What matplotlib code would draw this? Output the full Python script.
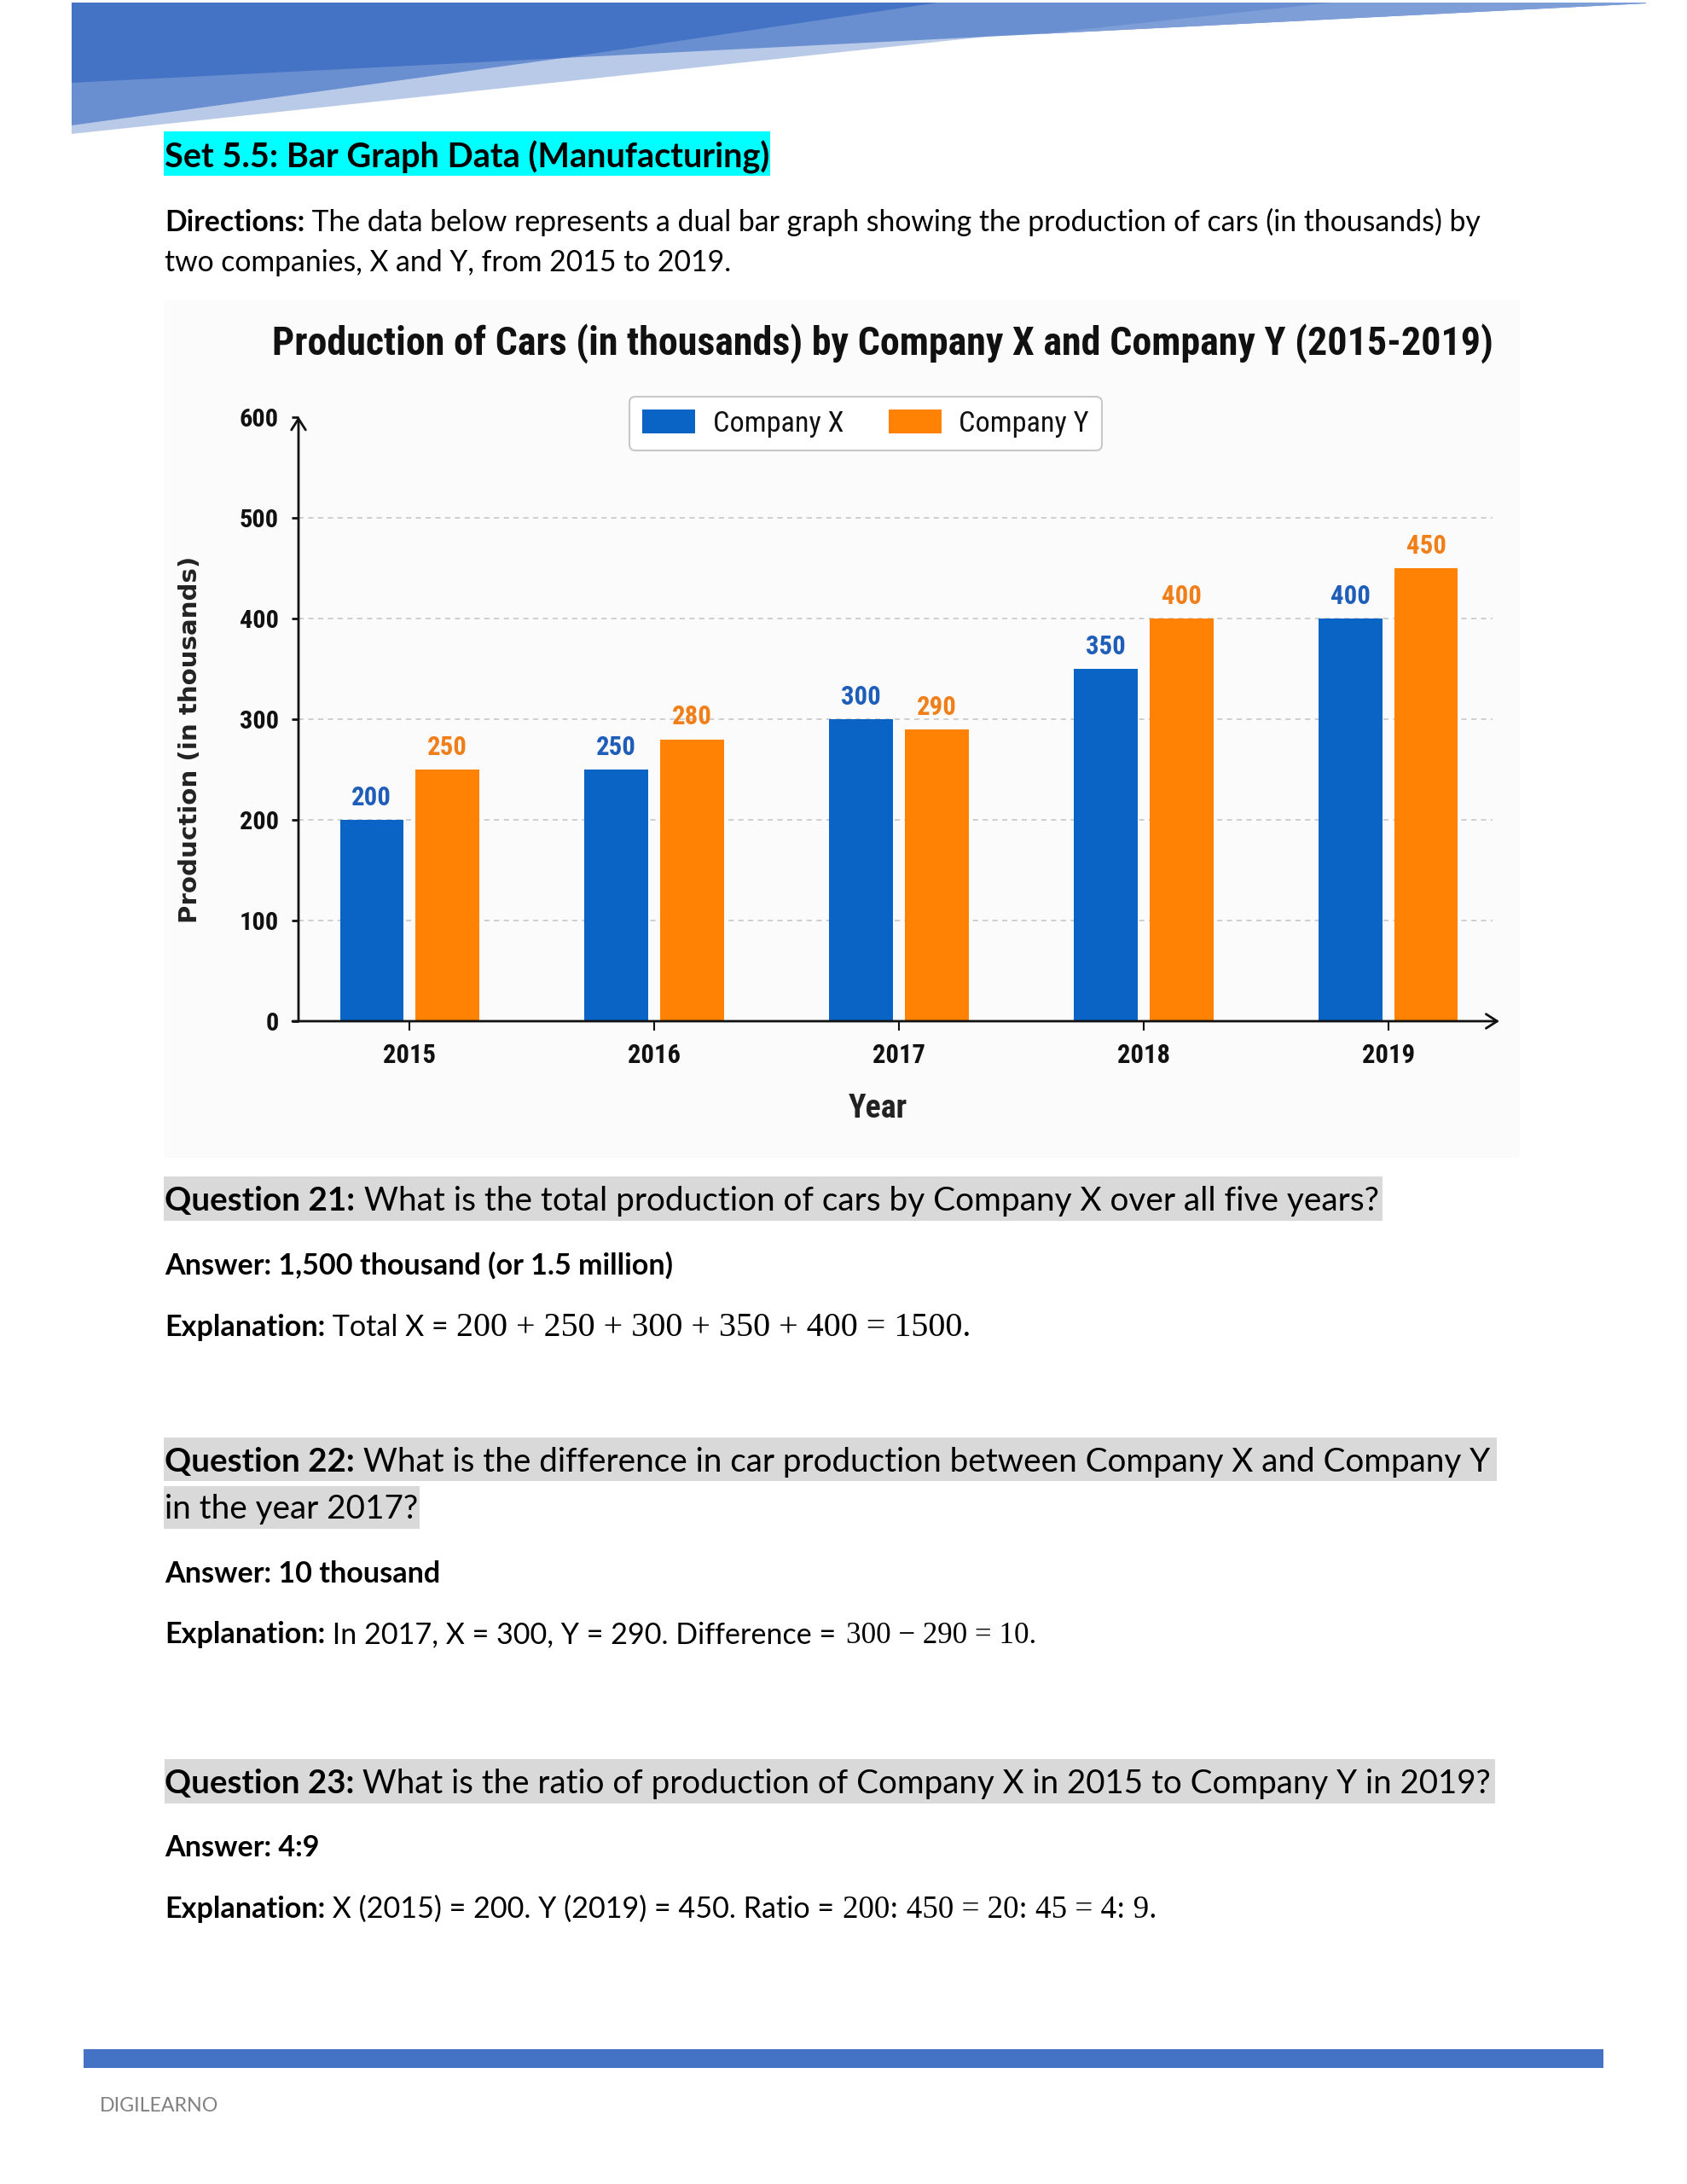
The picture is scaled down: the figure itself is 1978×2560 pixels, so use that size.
import matplotlib
matplotlib.use('Agg')
import matplotlib.pyplot as plt
from matplotlib import font_manager as fm
from matplotlib.patches import Rectangle, Polygon
import numpy as np

# ---------------- data ----------------
years = ['2015', '2016', '2017', '2018', '2019']
company_x = [200, 250, 300, 350, 400]
company_y = [250, 280, 290, 400, 450]
y_ticks = [0, 100, 200, 300, 400, 500, 600]
series_names = ['Company X', 'Company Y']

# ---------------- figure ----------------
W, H = 1978, 2560
fig = plt.figure(figsize=(W / 100, H / 100), dpi=100)
fig.patch.set_facecolor('white')
bg = fig.add_axes([0, 0, 1, 1])
bg.set_xlim(0, W)
bg.set_ylim(H, 0)
bg.axis('off')
renderer = fig.canvas.get_renderer()

names = {f.name for f in fm.fontManager.ttflist}


def pick(*cands):
    for c in cands:
        if c in names:
            return c
    return 'DejaVu Sans'


BODY = pick('Lato', 'Open Sans', 'Noto Sans')
COND = pick('Roboto Condensed', 'Liberation Sans Narrow', 'Roboto', 'Lato')
SERIF = pick('Liberation Serif', 'DejaVu Serif')
YLAB = 'DejaVu Sans'
CHART_BOOST = 1.0 if COND in ('Roboto Condensed', 'Liberation Sans Narrow') else 1.1


def width_px(s, **kw):
    t = bg.text(0, 0, s, fontsize=20, **kw)
    w = t.get_window_extent(renderer).width
    t.remove()
    return w


def adv_px(s, **kw):
    return width_px(s + '|', **kw) - width_px('|', **kw)


def fit_size(s, target, **kw):
    return 20 * target / width_px(s, **kw)


def draw_segments(x, y, segs, target=None, size=None, color='black', last_end=None):
    """Draw consecutive text runs on one baseline.
    target: total width to fit (uniform size). size: fixed size.
    last_end: if given, the last run is sized so that it ends at this x."""
    if size is None:
        total = sum(adv_px(t, **kw) for t, kw in segs[:-1]) + width_px(segs[-1][0], **segs[-1][1])
        size = 20 * target / total
    cx = x
    n = len(segs)
    for i, (t, kw) in enumerate(segs):
        sz = size
        if last_end is not None and i == n - 1:
            sz = fit_size(t, last_end - cx, **kw)
        bg.text(cx, y, t, fontsize=sz, va='baseline', ha='left', color=color, zorder=5, **kw)
        cx += adv_px(t, **kw) * sz / 20
    return size


B = dict(family=BODY, fontweight='bold')
N = dict(family=BODY)
S = dict(family=SERIF)

# ---------------- header banner ----------------
bg.add_patch(Polygon([(84, 3), (1156, 3), (1156, 43), (84, 157)], closed=True, color='#B9CAE8', lw=0, zorder=1))
bg.add_patch(Polygon([(84, 3), (1930, 3), (1930, 4), (660, 68), (84, 147)], closed=True, color='#6A8FD1', lw=0, zorder=2))
bg.add_patch(Polygon([(1218, 40), (1561, 3), (1930, 3), (1930, 4)], closed=True, color='#7E9ED8', lw=0, zorder=2))
bg.add_patch(Polygon([(84, 3), (1100, 3), (660, 68), (84, 97)], closed=True, color='#4472C4', lw=0, zorder=3))

# ---------------- heading & directions ----------------
bg.add_patch(Rectangle((192, 154), 711, 52, color='#00FFFF', lw=0, zorder=1))
draw_segments(193, 196, [('Set 5.5: Bar Graph Data (Manufacturing)', B)], 708)
dsize = draw_segments(193, 271, [('Directions:', B),
                                 (' The data below represents a dual bar graph showing the production of cars (in thousands) by', N)], 1545)
draw_segments(193, 318, [('two companies, X and Y, from 2015 to 2019.', N)], size=dsize)

# ---------------- chart ----------------
bg.add_patch(Rectangle((193, 352), 1589, 1005, color='#FBFBFB', lw=0, zorder=0))
chart_title = 'Production of Cars (in thousands) by Company X and Company Y (2015-2019)'
tsize = fit_size(chart_title, 1431, family=COND, fontweight='bold')
bg.text(319, 416, chart_title, fontsize=tsize, family=COND, fontweight='bold', va='baseline', ha='left', color='#111111')

ax_left, ax_right, ax_bottom, ax_top = 350, 1758, 1197, 489
ax = fig.add_axes([ax_left / W, 1 - ax_bottom / H, (ax_right - ax_left) / W, (ax_bottom - ax_top) / H])
ax.set_facecolor('none')
x = np.arange(len(years))
off, bw = 0.155, 0.258
ax.set_xlim(-0.453, 4.453)
ax.set_ylim(0, 600)

BLUE, ORANGE = '#0A64C6', '#FF8204'
BLUE_T, ORANGE_T = '#1E5DB8', '#F07F1A'
ax.bar(x - off, company_x, bw, color=BLUE, zorder=3, label=series_names[0])
ax.bar(x + off, company_y, bw, color=ORANGE, zorder=3, label=series_names[1])

vsize = fit_size('250', 45, family=COND, fontweight='bold') * CHART_BOOST * 1.04
for xi, v in zip(x, company_x):
    ax.annotate(str(v), (xi - off, v), xytext=(0, 8), textcoords='offset points', ha='center', va='bottom',
                fontsize=vsize, fontweight='bold', family=COND, color=BLUE_T, zorder=4)
for xi, v in zip(x, company_y):
    ax.annotate(str(v), (xi + off, v), xytext=(0, 8), textcoords='offset points', ha='center', va='bottom',
                fontsize=vsize, fontweight='bold', family=COND, color=ORANGE_T, zorder=4)

for v in y_ticks[1:-1]:
    ax.axhline(v, xmin=0, xmax=(1750 - ax_left) / (ax_right - ax_left), color='#C2C2C2', lw=1.1,
               dashes=(4, 3.5), zorder=1)

for sp in ax.spines.values():
    sp.set_visible(False)
ax.annotate('', xy=(0, 1.001), xytext=(0, 0), xycoords='axes fraction',
            arrowprops=dict(arrowstyle='->,head_length=0.47,head_width=0.3', lw=2, color='#111111',
                            shrinkA=0, shrinkB=0, mutation_scale=20), annotation_clip=False)
ax.annotate('', xy=(1, 0), xytext=(-0.005, 0), xycoords='axes fraction',
            arrowprops=dict(arrowstyle='->,head_length=0.47,head_width=0.3', lw=2, color='#111111',
                            shrinkA=0, shrinkB=0, mutation_scale=20), annotation_clip=False)

xsize = fit_size('2015', 62, family=COND, fontweight='bold') * CHART_BOOST
ysize = fit_size('600', 46, family=COND, fontweight='bold') * CHART_BOOST
ax.set_xticks(x, years)
ax.set_yticks(y_ticks, [str(v) for v in y_ticks])
ax.tick_params(axis='x', length=8, width=1.5, pad=10, labelsize=xsize, colors='#111111')
ax.tick_params(axis='y', length=5.5, width=2, pad=11, labelsize=ysize, colors='#111111')
for lab in ax.get_xticklabels() + ax.get_yticklabels():
    lab.set_fontfamily(COND)
    lab.set_fontweight('bold')

ylsize = fit_size('Production (in thousands)', 430, family=YLAB, fontweight='bold')
ax.set_ylabel('Production (in thousands)', family=YLAB, fontweight='bold', fontsize=ylsize, color='#222222')
ax.yaxis.set_label_coords((223 - ax_left) / (ax_right - ax_left), (ax_bottom - 867) / (ax_bottom - ax_top))
ax.yaxis.label.set_va('center')
xlsize = fit_size('Year', 69, family=COND, fontweight='bold') * CHART_BOOST
ax.set_xlabel('Year', family=COND, fontweight='bold', fontsize=xlsize, color='#222222')
ax.xaxis.set_label_coords((1029 - ax_left) / (ax_right - ax_left), (ax_bottom - 1300) / (ax_bottom - ax_top))
ax.xaxis.label.set_va('center')

lsize = fit_size('Company X', 153, family=COND) * CHART_BOOST
fs_px = lsize * 100 / 72
leg = ax.legend(loc='upper left', bbox_to_anchor=(738, 465), bbox_transform=bg.transData, ncol=2,
                prop={'family': COND, 'size': lsize}, handlelength=62 / fs_px, handleheight=30 / fs_px,
                handletextpad=21 / fs_px, columnspacing=52 / fs_px, borderpad=15 / fs_px, borderaxespad=0,
                frameon=True, fancybox=True, edgecolor='#C8C8C8', framealpha=1)
leg.get_frame().set_linewidth(1.5)
for t in leg.get_texts():
    t.set_color('#111111')

# ---------------- questions ----------------
GREY = '#D9D9D9'
asize = fit_size('Answer: 1,500 thousand (or 1.5 million)', 597, **B)

bg.add_patch(Rectangle((192, 1379), 1429, 52, color=GREY, lw=0, zorder=1))
draw_segments(193, 1419, [('Question 21:', B),
                          (' What is the total production of cars by Company X over all five years?', N)], 1425)
draw_segments(193, 1494, [('Answer: 1,500 thousand (or 1.5 million)', B)], size=asize)
draw_segments(193, 1566, [('Explanation:', B), (' Total X = ', N),
                          ('200 + 250 + 300 + 350 + 400 = 1500.', S)], size=asize, last_end=1136)

bg.add_patch(Rectangle((192, 1685), 1563, 51, color=GREY, lw=0, zorder=1))
bg.add_patch(Rectangle((192, 1742), 300, 50, color=GREY, lw=0, zorder=1))
qsize = draw_segments(193, 1725, [('Question 22:', B),
                                  (' What is the difference in car production between Company X and Company Y', N)], 1559)
draw_segments(193, 1780, [('in the year 2017?', N)], size=qsize)
draw_segments(193, 1855, [('Answer: 10 thousand', B)], size=asize)
draw_segments(193, 1926, [('Explanation:', B), (' In 2017, X = 300, Y = 290. Difference = ', N),
                          ('300 \u2212 290 = 10.', S)], size=asize, last_end=1215)

bg.add_patch(Rectangle((193, 2062), 1560, 52, color=GREY, lw=0, zorder=1))
draw_segments(193, 2102, [('Question 23:', B),
                          (' What is the ratio of production of Company X in 2015 to Company Y in 2019?', N)], 1557)
draw_segments(193, 2176, [('Answer: 4:9', B)], size=asize)
draw_segments(193, 2248, [('Explanation:', B), (' X (2015) = 200. Y (2019) = 450. Ratio = ', N),
                          ('200: 450 = 20: 45 = 4: 9.', S)], size=asize, last_end=1356)

# ---------------- footer ----------------
bg.add_patch(Rectangle((98, 2402), 1782, 22, color='#4472C4', lw=0, zorder=1))
draw_segments(117, 2475, [('DIGILEARNO', N)], 139, color='#808080')

fig.savefig('out.png', dpi=100, facecolor='white')
